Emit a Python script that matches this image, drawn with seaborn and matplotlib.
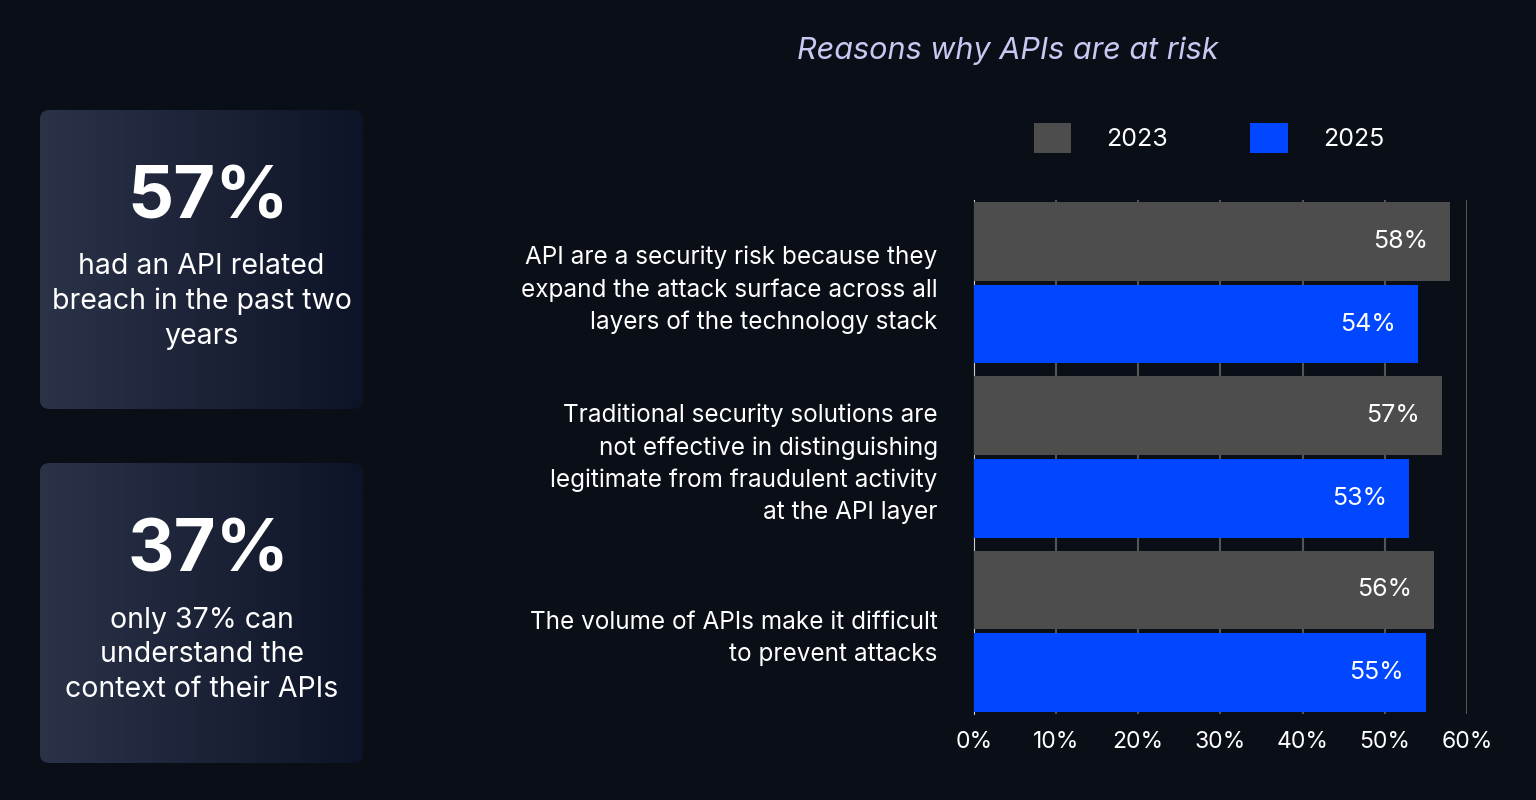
import numpy as np
import pandas as pd
import matplotlib.pyplot as plt
import seaborn as sns
from matplotlib.patches import FancyBboxPatch
from matplotlib.ticker import FuncFormatter

reasons = [
    "API are a security risk because they\nexpand the attack surface across all\nlayers of the technology stack",
    "Traditional security solutions are\nnot effective in distinguishing\nlegitimate from fraudulent activity\nat the API layer",
    "The volume of APIs make it difficult\nto prevent attacks",
]
vals_2023 = [58, 57, 56]
vals_2025 = [54, 53, 55]
years = ["2023", "2025"]

bg = "#0a0e17"
plt.rcParams["font.family"] = "Inter"

df = pd.DataFrame({
    "reason": reasons * 2,
    "year": [years[0]] * 3 + [years[1]] * 3,
    "value": vals_2023 + vals_2025,
})

fig = plt.figure(figsize=(15.36, 8), dpi=100, facecolor=bg)
ax = fig.add_axes([0.634, 0.1075, 0.321, 0.6425], facecolor=bg)

sns.barplot(data=df, y="reason", x="value", hue="year", orient="h",
            palette={"2023": "#4d4d4d", "2025": "#0047ff"}, width=0.95,
            ax=ax, zorder=3, saturation=1)

for cont in ax.containers:
    for bar in cont:
        # small gap between the two bars of a group
        c = bar.get_y() + bar.get_height() / 2
        bar.set_height(0.45)
        bar.set_y(c - 0.225)
        w = bar.get_width()
        ax.text(w - 2.7, c, f"{w:.0f}%", ha="right", va="center",
                color="white", fontsize=18, zorder=4)

ax.set_xlim(0, 60)
ax.set_ylim(2.475, -0.475)
ax.set_xticks(range(0, 61, 10))
ax.xaxis.set_major_formatter(FuncFormatter(lambda v, p: f"{v:.0f}%"))
ax.grid(axis="x", color="#555555", linewidth=1.5, zorder=0)
ax.grid(axis="y", visible=False)
for s in ["top", "right", "bottom"]:
    ax.spines[s].set_visible(False)
ax.spines["left"].set_color("#cccccc")
ax.tick_params(axis="x", colors="white", labelsize=16.5, length=0, pad=12)
ax.tick_params(axis="y", colors="white", labelsize=17.5, length=0, pad=26)
for t in ax.get_yticklabels():
    t.set_linespacing(1.5)
ax.set_xlabel("")
ax.set_ylabel("")

sns.move_legend(ax, "center", bbox_to_anchor=(0.787, 0.8275), bbox_transform=fig.transFigure,
                ncol=2, frameon=False, title=None, fontsize=18, labelcolor="white",
                handlelength=1.5, handleheight=1.5, columnspacing=3.3, handletextpad=1.4)

fig.text(0.656, 0.937, "Reasons why APIs are at risk", ha="center", va="center",
         color="#c9c8f2", fontsize=22, style="italic")

# gradient stat boxes
grad = np.linspace(0, 1, 256).reshape(1, -1)
cmap = sns.blend_palette(["#2b3349", "#0e1427"], as_cmap=True)
boxes = [(110, 409, "57%", "had an API related\nbreach in the past two\nyears"),
         (463, 763, "37%", "only 37% can\nunderstand the\ncontext of their APIs")]
for top, bottom, big, small in boxes:
    x0, x1 = 40 / 1536, 363 / 1536
    y0, y1 = 1 - bottom / 800, 1 - top / 800
    bax = fig.add_axes([x0, y0, x1 - x0, y1 - y0])
    bax.axis("off")
    im = bax.imshow(grad, cmap=cmap, aspect="auto", extent=[0, 1, 0, 1])
    clip = FancyBboxPatch((0.0, 0.0), 1, 1, boxstyle="round,pad=0,rounding_size=0.03",
                          transform=bax.transAxes, facecolor="none", edgecolor="none")
    bax.add_patch(clip)
    im.set_clip_path(clip)
    bax.set_xlim(0, 1)
    bax.set_ylim(0, 1)
    bax.text(0.52, 0.70, big, ha="center", va="center", color="white",
             fontsize=52, fontweight="bold", transform=bax.transAxes)
    bax.text(0.5, 0.36, small, ha="center", va="center", color="white",
             fontsize=20.5, linespacing=1.35, transform=bax.transAxes)

fig.savefig("out.png", dpi=100, facecolor=bg)
